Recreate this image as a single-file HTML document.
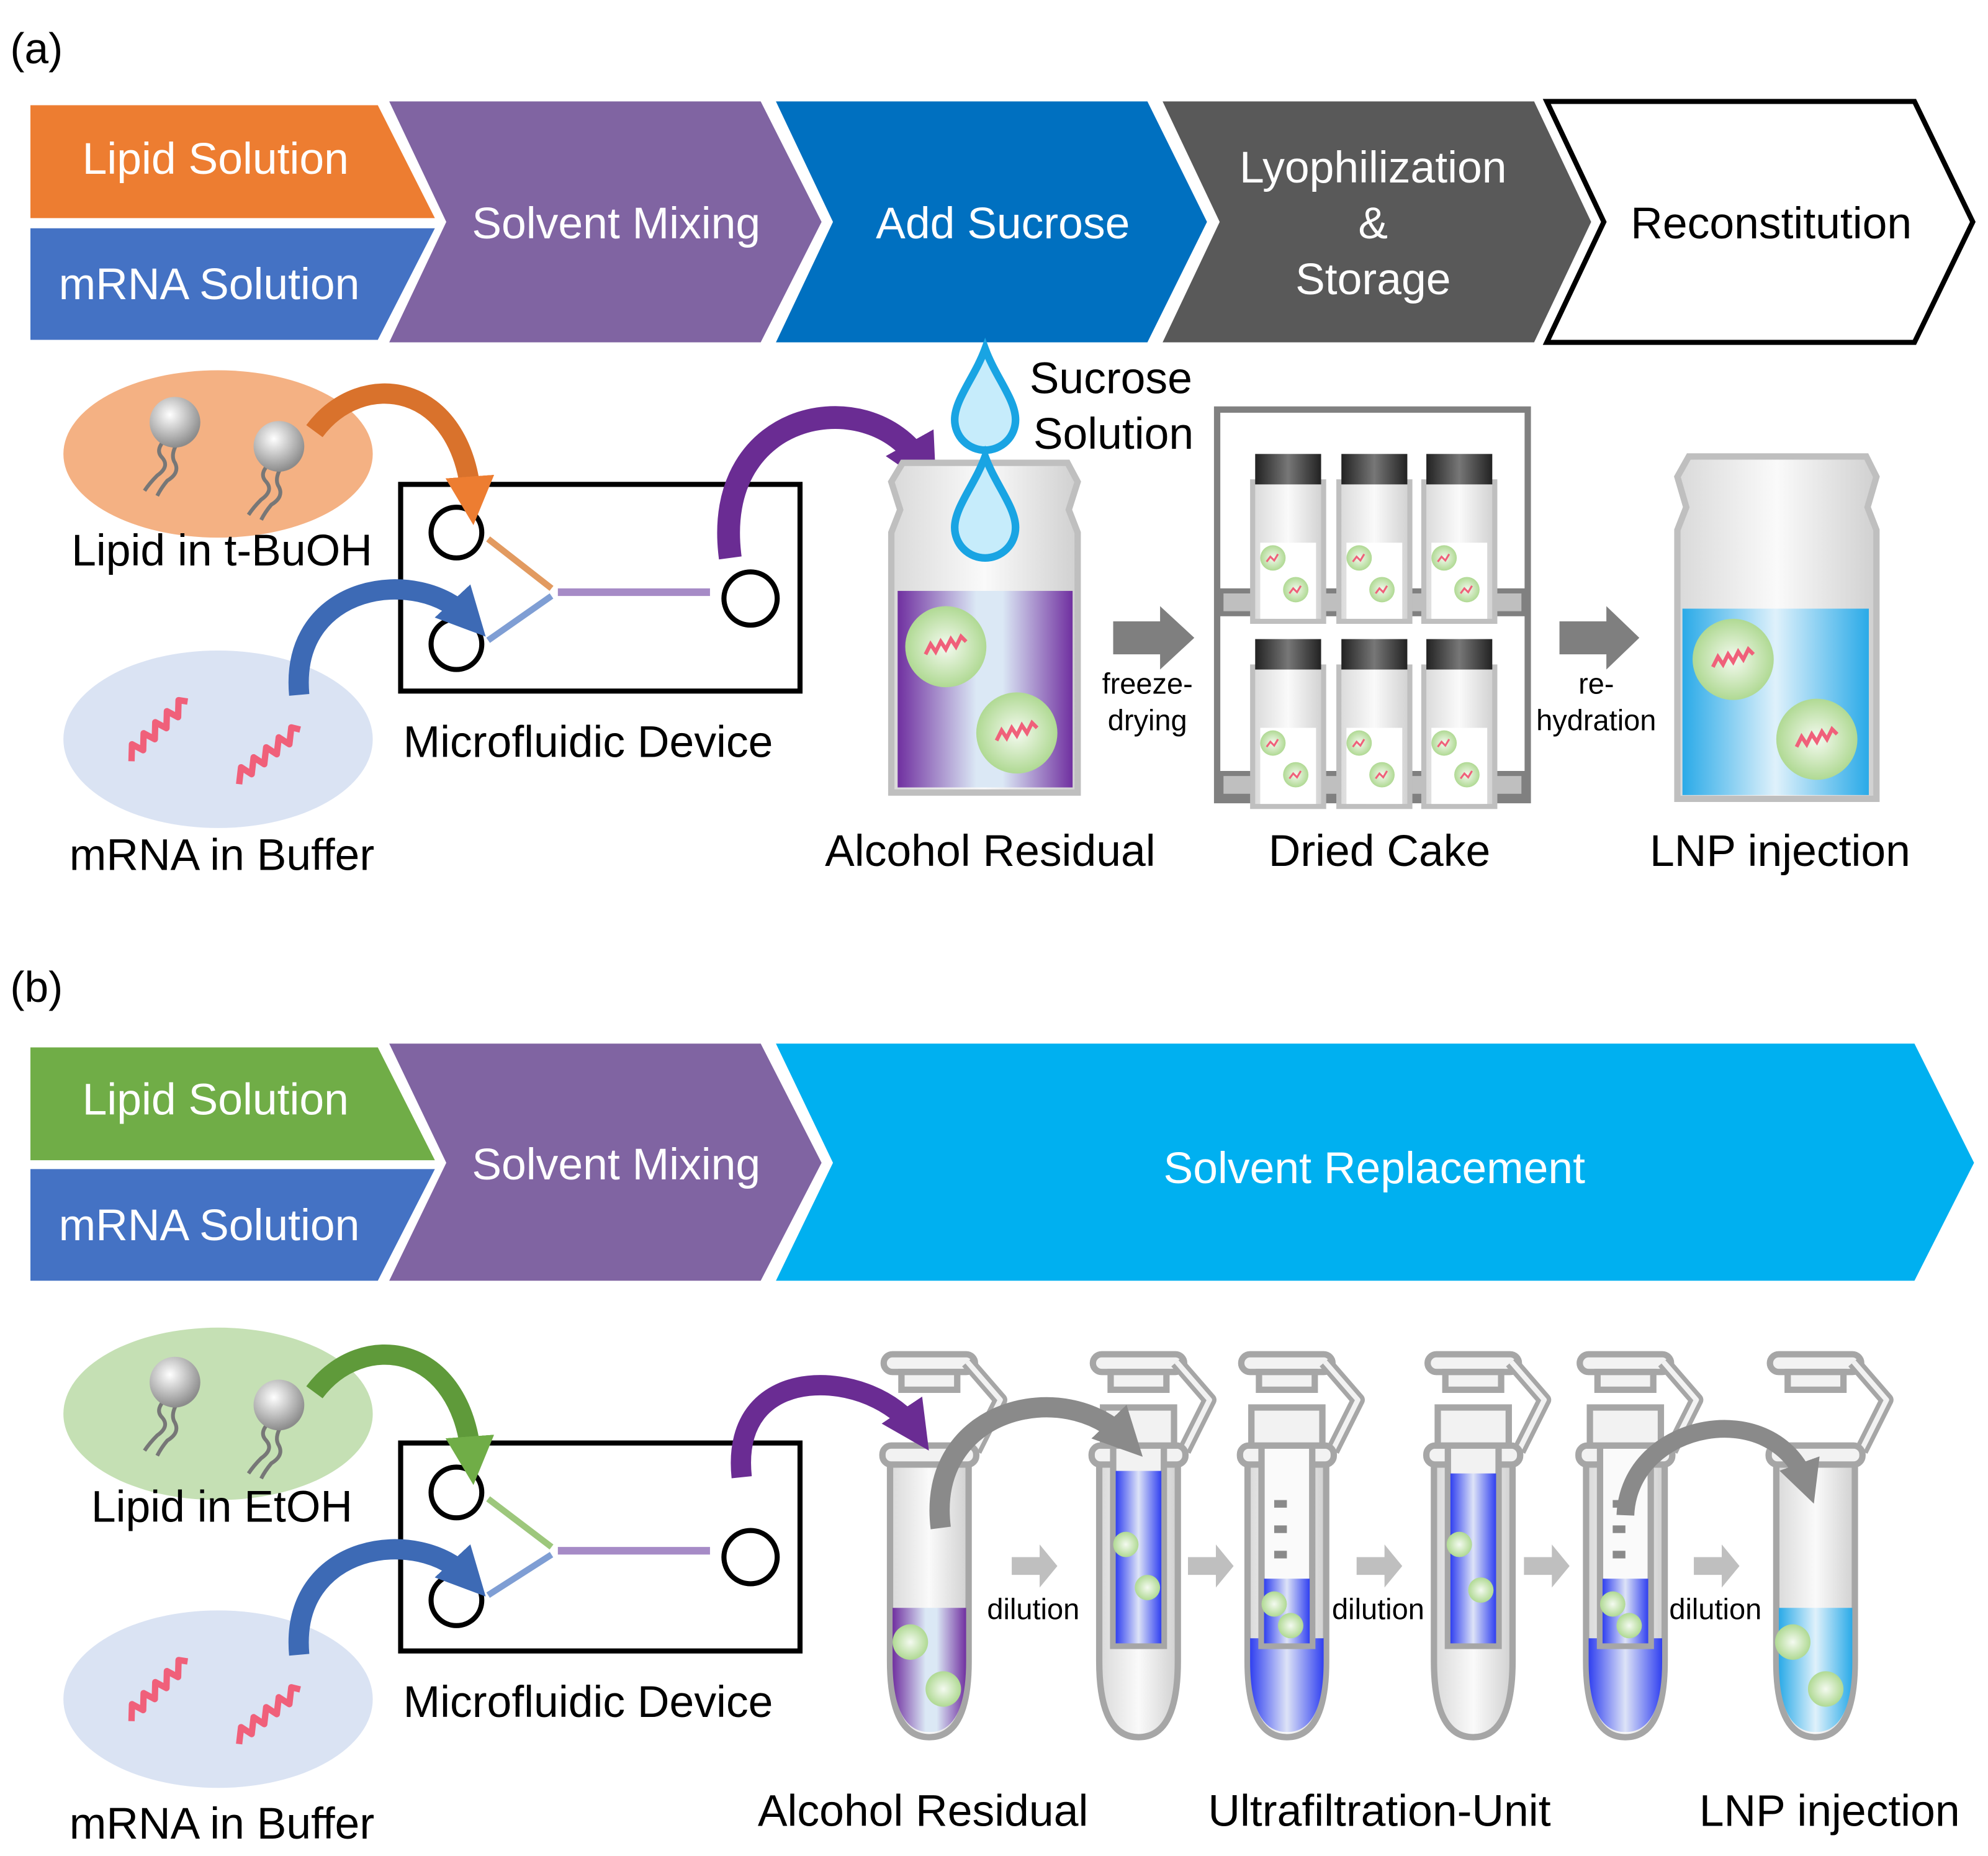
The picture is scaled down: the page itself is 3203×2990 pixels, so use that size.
<!DOCTYPE html>
<html><head><meta charset="utf-8"><style>
html,body{margin:0;padding:0;background:#fff;overflow:hidden;width:3203px;height:2990px;}
svg{display:block;}
text{font-family:"Liberation Sans",sans-serif;}
</style></head><body>
<svg width="3203" height="2990" viewBox="0 0 1568 1463.7" preserveAspectRatio="none" xmlns="http://www.w3.org/2000/svg">
<defs>
<radialGradient id="sph" cx="0.4" cy="0.35" r="0.65"><stop offset="0" stop-color="#fff"/><stop offset="1" stop-color="#8c8c8c"/></radialGradient>
<radialGradient id="gb" cx="0.5" cy="0.5" r="0.55"><stop offset="0" stop-color="#f4faf0"/><stop offset="1" stop-color="#a9d68a"/></radialGradient>
<linearGradient id="purp" x1="0" x2="1"><stop offset="0" stop-color="#7030a0"/><stop offset="0.45" stop-color="#dbe8f5"/><stop offset="0.6" stop-color="#dbe8f5"/><stop offset="1" stop-color="#7030a0"/></linearGradient>
<linearGradient id="blu" x1="0" x2="1"><stop offset="0" stop-color="#2aaae8"/><stop offset="0.5" stop-color="#dff1fb"/><stop offset="1" stop-color="#2aaae8"/></linearGradient>
<linearGradient id="dblu" x1="0" x2="1"><stop offset="0" stop-color="#3040f0"/><stop offset="0.5" stop-color="#dde3f7"/><stop offset="1" stop-color="#3040f0"/></linearGradient>
<linearGradient id="glass" x1="0" x2="1"><stop offset="0" stop-color="#d9d9d9"/><stop offset="0.5" stop-color="#fafafa"/><stop offset="1" stop-color="#d0d0d0"/></linearGradient>
<linearGradient id="cap" x1="0" x2="1"><stop offset="0" stop-color="#222"/><stop offset="0.5" stop-color="#777"/><stop offset="1" stop-color="#222"/></linearGradient>
<marker id="mo" viewBox="0 0 10 10" refX="5" refY="5" markerWidth="2.4" markerHeight="2.4" orient="auto"><path d="M0,0L10,5L0,10z" fill="#ed7d31"/></marker>
<marker id="mb" viewBox="0 0 10 10" refX="5" refY="5" markerWidth="2.4" markerHeight="2.4" orient="auto"><path d="M0,0L10,5L0,10z" fill="#3d6ab5"/></marker>
<marker id="mp" viewBox="0 0 10 10" refX="5" refY="5" markerWidth="2.4" markerHeight="2.4" orient="auto"><path d="M0,0L10,5L0,10z" fill="#6a2c93"/></marker>
<marker id="mg" viewBox="0 0 10 10" refX="5" refY="5" markerWidth="2.4" markerHeight="2.4" orient="auto"><path d="M0,0L10,5L0,10z" fill="#70ad47"/></marker>
<marker id="my" viewBox="0 0 10 10" refX="5" refY="5" markerWidth="2.4" markerHeight="2.4" orient="auto"><path d="M0,0L10,5L0,10z" fill="#8a8a8a"/></marker>
<g id="lip"><path d="M-8,14 q-8,8 -2,14 q6,7 -4,14 q-6,6 -10,12" stroke="#777" stroke-width="3" fill="none"/><path d="M2,16 q-6,10 -2,16 q4,8 -6,14 q-5,6 -8,12" stroke="#777" stroke-width="3" fill="none"/><circle r="20" fill="url(#sph)"/></g>
<g id="rna"><polyline points="-30,14 -24,2 -18,10 -12,-2 -6,6 0,-6 6,2 12,-10 18,-2 24,-14 30,-10" fill="none" stroke="#f0607a" stroke-width="5" stroke-linejoin="round"/></g>
<g id="lnp"><circle r="32" fill="url(#gb)"/><polyline points="-16,6 -12,-2 -8,4 -4,-4 0,2 4,-6 8,0 12,-8 16,-4" fill="none" stroke="#f0607a" stroke-width="3"/></g>
<g id="slnp"><circle r="10" fill="url(#gb)"/><polyline points="-5,3 -2,-1 1,2 4,-3" fill="none" stroke="#f0607a" stroke-width="1.5"/></g>
<g id="drop"><path d="M0,-42 C8,-20 24,-2 24,14 A24,24 0 0 1 -24,14 C-24,-2 -8,-20 0,-42z" fill="#c6ecfb" stroke="#19a4e3" stroke-width="6"/></g>
<g id="tcap"><rect x="-36" y="-72" width="72" height="14" rx="7" fill="#f2f2f2" stroke="#a6a6a6" stroke-width="5"/><rect x="-22" y="-58" width="44" height="14" fill="#f2f2f2" stroke="#a6a6a6" stroke-width="5"/><path d="M30,-66 L56,-36 L36,4" fill="none" stroke="#a6a6a6" stroke-width="11" stroke-linejoin="round"/><path d="M30,-66 L56,-36 L36,4" fill="none" stroke="#f2f2f2" stroke-width="4" stroke-linejoin="round"/></g>
<g id="tube"><path d="M-31,8 L-31,170 Q-31,230 0,230 Q31,230 31,170 L31,8z" fill="url(#glass)" stroke="#a6a6a6" stroke-width="5"/><rect x="-37" y="0" width="74" height="15" rx="7" fill="#f2f2f2" stroke="#a6a6a6" stroke-width="5"/></g>
<g id="vial"><rect x="-28" y="0" width="56" height="110" fill="url(#glass)" stroke="#bfbfbf" stroke-width="4"/><rect x="-26" y="-22" width="52" height="24" fill="url(#cap)"/><rect x="-22" y="48" width="44" height="60" fill="#fff"/><use href="#slnp" x="-12" y="60"/><use href="#slnp" x="6" y="85"/></g>
</defs>

<!-- (a) -->
<text x="8" y="50" font-size="34">(a)</text>
<polygon points="24,83 298,83 343,172 24,172" fill="#ed7d31"/>
<polygon points="24,180 343,180 298,268 24,268" fill="#4472c4"/>
<polygon points="307,80 600,80 648,175 600,270 307,270 352,175" fill="#8064a2"/>
<polygon points="612,80 905,80 952,175 905,270 612,270 657,175" fill="#0070c0"/>
<polygon points="917,80 1210,80 1255,175 1210,270 917,270 962,175" fill="#595959"/>
<polygon points="1220,80 1510,80 1556,175 1510,270 1220,270 1265,175" fill="#fff" stroke="#000" stroke-width="4"/>
<g font-size="35" fill="#fff" text-anchor="middle">
<text x="170" y="137">Lipid Solution</text>
<text x="165" y="236">mRNA Solution</text>
<text x="486" y="188">Solvent Mixing</text>
<text x="791" y="188">Add Sucrose</text>
<text x="1083" y="144">Lyophilization</text>
<text x="1083" y="188">&amp;</text>
<text x="1083" y="232">Storage</text>
<text x="1397" y="188" fill="#000">Reconstitution</text>
</g>

<ellipse cx="172" cy="358" rx="122" ry="66" fill="#f4b183"/>
<use href="#lip" x="138" y="333"/><use href="#lip" x="220" y="352"/>
<ellipse cx="172" cy="583" rx="122" ry="70" fill="#dae3f3"/>
<use href="#rna" x="125" y="575" transform="rotate(-25 125 575)"/><use href="#rna" x="212" y="595" transform="rotate(-20 212 595)"/>
<text x="175" y="446" font-size="35" text-anchor="middle">Lipid in t-BuOH</text>
<text x="175" y="686" font-size="35" text-anchor="middle">mRNA in Buffer</text>

<rect x="316" y="382" width="315" height="163" fill="#fff" stroke="#000" stroke-width="4"/>
<circle cx="360" cy="420" r="20" fill="none" stroke="#000" stroke-width="4"/>
<circle cx="360" cy="508" r="20" fill="none" stroke="#000" stroke-width="4"/>
<circle cx="592" cy="472" r="21" fill="none" stroke="#000" stroke-width="4"/>
<line x1="385" y1="425" x2="435" y2="464" stroke="#e29a60" stroke-width="5"/>
<line x1="385" y1="505" x2="435" y2="470" stroke="#7f9ed4" stroke-width="5"/>
<line x1="440" y1="467" x2="560" y2="467" stroke="#a68bc6" stroke-width="6"/>
<path d="M248,340 C285,290 365,300 372,395" fill="none" stroke="#d9722c" stroke-width="16" marker-end="url(#mo)"/>
<path d="M236,548 C228,460 330,445 370,488" fill="none" stroke="#3d6ab5" stroke-width="16" marker-end="url(#mb)"/>
<path d="M576,440 C560,320 690,300 728,368" fill="none" stroke="#6a2c93" stroke-width="18" marker-end="url(#mp)"/>
<text x="318" y="597" font-size="35">Microfluidic Device</text>

<!-- vial 1 -->
<path d="M712,365 L842,365 L850,380 L843,402 L850,420 L850,625 L703,625 L703,420 L710,402 L703,380z" fill="url(#glass)" stroke="#bfbfbf" stroke-width="5"/>
<rect x="708" y="466" width="138" height="155" fill="url(#purp)"/>
<use href="#lnp" x="746" y="510"/><use href="#lnp" x="802" y="578"/>
<use href="#drop" x="777" y="317"/><use href="#drop" x="777" y="402"/>
<text x="812" y="310" font-size="35">Sucrose</text>
<text x="815" y="354" font-size="35">Solution</text>
<polygon points="878,490 915,490 915,478 942,503 915,528 915,516 878,516" fill="#7f7f7f"/>
<text x="905" y="547" font-size="23" text-anchor="middle">freeze-</text>
<text x="905" y="576" font-size="23" text-anchor="middle">drying</text>

<!-- cabinet -->
<rect x="960" y="323" width="245" height="308" fill="#fff" stroke="#808080" stroke-width="5"/>
<rect x="963" y="466" width="239" height="18" fill="#bfbfbf" stroke="#808080" stroke-width="4"/>
<rect x="963" y="610" width="239" height="18" fill="#bfbfbf" stroke="#808080" stroke-width="4"/>
<use href="#vial" x="1016" y="380"/><use href="#vial" x="1084" y="380"/><use href="#vial" x="1151" y="380"/>
<use href="#vial" x="1016" y="526"/><use href="#vial" x="1084" y="526"/><use href="#vial" x="1151" y="526"/>
<polygon points="1230,490 1267,490 1267,478 1293,503 1267,528 1267,516 1230,516" fill="#7f7f7f"/>
<text x="1259" y="547" font-size="23" text-anchor="middle">re-</text>
<text x="1259" y="576" font-size="23" text-anchor="middle">hydration</text>

<!-- LNP vial -->
<path d="M1332,360 L1472,360 L1480,376 L1473,400 L1480,418 L1480,630 L1323,630 L1323,418 L1330,400 L1323,376z" fill="url(#glass)" stroke="#bfbfbf" stroke-width="5"/>
<rect x="1327" y="480" width="147" height="147" fill="url(#blu)"/>
<use href="#lnp" x="1367" y="520"/><use href="#lnp" x="1433" y="583"/>

<text x="781" y="683" font-size="35" text-anchor="middle">Alcohol Residual</text>
<text x="1088" y="683" font-size="35" text-anchor="middle">Dried Cake</text>
<text x="1404" y="683" font-size="35" text-anchor="middle">LNP injection</text>

<!-- (b) -->
<text x="8" y="790" font-size="34">(b)</text>
<polygon points="24,826 298,826 343,915 24,915" fill="#70ad47"/>
<polygon points="24,922 343,922 298,1010 24,1010" fill="#4472c4"/>
<polygon points="307,823 600,823 648,917 600,1010 307,1010 352,917" fill="#8064a2"/>
<polygon points="612,823 1510,823 1557,917 1510,1010 612,1010 657,917" fill="#00b0f0"/>
<g font-size="35" fill="#fff" text-anchor="middle">
<text x="170" y="879">Lipid Solution</text>
<text x="165" y="978">mRNA Solution</text>
<text x="486" y="930">Solvent Mixing</text>
<text x="1084" y="933">Solvent Replacement</text>
</g>

<ellipse cx="172" cy="1115" rx="122" ry="68" fill="#c5e0b4"/>
<use href="#lip" x="138" y="1090"/><use href="#lip" x="220" y="1108"/>
<ellipse cx="172" cy="1340" rx="122" ry="70" fill="#dae3f3"/>
<use href="#rna" x="125" y="1332" transform="rotate(-25 125 1332)"/><use href="#rna" x="212" y="1352" transform="rotate(-20 212 1352)"/>
<text x="175" y="1200" font-size="35" text-anchor="middle">Lipid in EtOH</text>
<text x="175" y="1450" font-size="35" text-anchor="middle">mRNA in Buffer</text>

<rect x="316" y="1138" width="315" height="164" fill="#fff" stroke="#000" stroke-width="4"/>
<circle cx="360" cy="1177" r="20" fill="none" stroke="#000" stroke-width="4"/>
<circle cx="360" cy="1262" r="20" fill="none" stroke="#000" stroke-width="4"/>
<circle cx="592" cy="1228" r="21" fill="none" stroke="#000" stroke-width="4"/>
<line x1="385" y1="1182" x2="435" y2="1220" stroke="#9dc77c" stroke-width="5"/>
<line x1="385" y1="1258" x2="435" y2="1226" stroke="#7f9ed4" stroke-width="5"/>
<line x1="440" y1="1223" x2="560" y2="1223" stroke="#a68bc6" stroke-width="6"/>
<path d="M248,1098 C285,1048 365,1058 372,1152" fill="none" stroke="#5f9a3a" stroke-width="16" marker-end="url(#mg)"/>
<path d="M236,1305 C228,1217 330,1202 370,1245" fill="none" stroke="#3d6ab5" stroke-width="16" marker-end="url(#mb)"/>
<text x="318" y="1354" font-size="35">Microfluidic Device</text>

<!-- tubes -->
<use href="#tcap" x="733" y="1140"/><use href="#tube" x="733" y="1140"/>
<path d="M704,1268 L762,1268 L762,1310 Q762,1366 733,1366 Q704,1366 704,1310z" fill="url(#purp)"/>
<circle cx="718" cy="1295" r="14" fill="url(#gb)"/><circle cx="744" cy="1332" r="14" fill="url(#gb)"/>

<use href="#tcap" x="898" y="1140"/><use href="#tube" x="898" y="1140"/>
<rect x="878" y="1140" width="40" height="158" fill="#f2f2f2" stroke="#a6a6a6" stroke-width="5"/>
<rect x="880" y="1160" width="36" height="136" fill="url(#dblu)"/>
<circle cx="888" cy="1218" r="10" fill="url(#gb)"/><circle cx="905" cy="1252" r="10" fill="url(#gb)"/>
<rect x="870" y="1110" width="56" height="30" fill="#f2f2f2" stroke="#a6a6a6" stroke-width="5"/>

<use href="#tcap" x="1015" y="1140"/><use href="#tube" x="1015" y="1140"/>
<path d="M986,1292 L1044,1292 L1044,1310 Q1044,1366 1015,1366 Q986,1366 986,1310z" fill="url(#dblu)"/>
<rect x="995" y="1140" width="40" height="158" fill="#fafafa" stroke="#a6a6a6" stroke-width="5"/>
<rect x="997" y="1245" width="36" height="51" fill="url(#dblu)"/>
<g fill="#8a8a8a"><rect x="1005" y="1183" width="10" height="6"/><rect x="1005" y="1203" width="10" height="6"/><rect x="1005" y="1223" width="10" height="6"/></g>
<circle cx="1005" cy="1265" r="10" fill="url(#gb)"/><circle cx="1018" cy="1282" r="10" fill="url(#gb)"/>
<rect x="987" y="1110" width="56" height="30" fill="#f2f2f2" stroke="#a6a6a6" stroke-width="5"/>

<use href="#tcap" x="1162" y="1140"/><use href="#tube" x="1162" y="1140"/>
<rect x="1142" y="1140" width="40" height="158" fill="#f2f2f2" stroke="#a6a6a6" stroke-width="5"/>
<rect x="1144" y="1162" width="36" height="134" fill="url(#dblu)"/>
<circle cx="1151" cy="1218" r="10" fill="url(#gb)"/><circle cx="1168" cy="1254" r="10" fill="url(#gb)"/>
<rect x="1134" y="1110" width="56" height="30" fill="#f2f2f2" stroke="#a6a6a6" stroke-width="5"/>

<use href="#tcap" x="1282" y="1140"/><use href="#tube" x="1282" y="1140"/>
<path d="M1253,1292 L1311,1292 L1311,1310 Q1311,1366 1282,1366 Q1253,1366 1253,1310z" fill="url(#dblu)"/>
<rect x="1262" y="1140" width="40" height="158" fill="#fafafa" stroke="#a6a6a6" stroke-width="5"/>
<rect x="1264" y="1245" width="36" height="51" fill="url(#dblu)"/>
<g fill="#8a8a8a"><rect x="1272" y="1183" width="10" height="6"/><rect x="1272" y="1203" width="10" height="6"/><rect x="1272" y="1223" width="10" height="6"/></g>
<circle cx="1272" cy="1265" r="10" fill="url(#gb)"/><circle cx="1285" cy="1282" r="10" fill="url(#gb)"/>
<rect x="1254" y="1110" width="56" height="30" fill="#f2f2f2" stroke="#a6a6a6" stroke-width="5"/>

<use href="#tcap" x="1432" y="1140"/><use href="#tube" x="1432" y="1140"/>
<path d="M1403,1268 L1461,1268 L1461,1310 Q1461,1366 1432,1366 Q1403,1366 1403,1310z" fill="url(#blu)"/>
<circle cx="1414" cy="1295" r="14" fill="url(#gb)"/><circle cx="1440" cy="1332" r="14" fill="url(#gb)"/>

<!-- b arrows -->
<path d="M585,1165 C575,1070 690,1080 722,1128" fill="none" stroke="#6a2c93" stroke-width="16" marker-end="url(#mp)"/>
<path d="M742,1205 C730,1110 840,1085 888,1135" fill="none" stroke="#8a8a8a" stroke-width="16" marker-end="url(#my)"/>
<path d="M1282,1195 C1285,1120 1400,1100 1425,1170" fill="none" stroke="#8a8a8a" stroke-width="14" marker-end="url(#my)"/>
<g fill="#bfbfbf">
<polygon points="798,1228 820,1228 820,1218 834,1235 820,1252 820,1242 798,1242"/>
<polygon points="937,1228 959,1228 959,1218 973,1235 959,1252 959,1242 937,1242"/>
<polygon points="1070,1228 1092,1228 1092,1218 1106,1235 1092,1252 1092,1242 1070,1242"/>
<polygon points="1202,1228 1224,1228 1224,1218 1238,1235 1224,1252 1224,1242 1202,1242"/>
<polygon points="1336,1228 1358,1228 1358,1218 1372,1235 1358,1252 1358,1242 1336,1242"/>
</g>
<text x="815" y="1277" font-size="23" text-anchor="middle">dilution</text>
<text x="1087" y="1277" font-size="23" text-anchor="middle">dilution</text>
<text x="1353" y="1277" font-size="23" text-anchor="middle">dilution</text>
<text x="728" y="1440" font-size="35" text-anchor="middle">Alcohol Residual</text>
<text x="1088" y="1440" font-size="35" text-anchor="middle">Ultrafiltration-Unit</text>
<text x="1443" y="1440" font-size="35" text-anchor="middle">LNP injection</text>
</svg>
</body></html>
